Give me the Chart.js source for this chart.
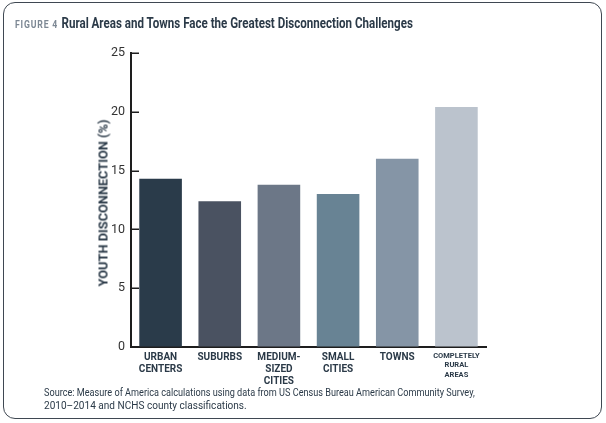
<!DOCTYPE html>
<html>
<head>
<meta charset="utf-8">
<script src="https://cdn.jsdelivr.net/npm/chart.js@4.4.1/dist/chart.umd.min.js"></script>
<style>
  html, body { margin: 0; padding: 0; background: #fff; }
  #wrap { position: relative; width: 606px; height: 423px; overflow: hidden; }
  #frame { position: absolute; left: 3px; top: 2px; width: 597px; height: 415px;
           border: 1.5px solid #3f4852; border-radius: 12px; }
  #chartBox { position: absolute; left: 0; top: 0; width: 606px; height: 423px; }
  .fit { position: absolute; white-space: nowrap; transform-origin: 0 0; display: inline-block; }
  #title { left: 15px; top: 13px; font-family: Roboto, "Liberation Sans", sans-serif; font-weight: 700; }
  #title .fig { color: #7d8894; font-size: 10.5px; letter-spacing: 1px; }
  #title .main { color: #2b3a48; font-size: 14px; }
  #ytitle { position: absolute; left: 103px; top: 203px; width: 0; height: 0; }
  #ytxt { position: absolute; left: 0; top: 0; white-space: nowrap; font-family: Roboto, sans-serif;
          font-weight: 700; font-size: 12.5px; color: #2b3a48; transform-origin: 0 0; }
  .src { left: 44px; font-family: Roboto, "Liberation Sans", sans-serif; font-size: 11px; color: #2b3a48; }
</style>
</head>
<body>
<div id="wrap">
  <div id="frame"></div>
  <div id="chartBox"><canvas id="c" width="606" height="423"></canvas></div>
  <div id="title" class="fit" data-w="398"><span class="fig">FIGURE 4</span> <span class="main">Rural Areas and Towns Face the Greatest Disconnection Challenges</span></div>
  <div id="ytitle"><span id="ytxt">YOUTH DISCONNECTION (%)</span></div>
  <div class="fit src" style="top:386px" data-w="431">Source: Measure of America calculations using data from US Census Bureau American Community Survey,</div>
  <div class="fit src" style="top:399px" data-w="203">2010–2014 and NCHS county classifications.</div>
</div>
<script>
// ---- data ----
const categories = [
  ["URBAN", "CENTERS"],
  ["SUBURBS"],
  ["MEDIUM-", "SIZED", "CITIES"],
  ["SMALL", "CITIES"],
  ["TOWNS"],
  ["COMPLETELY", "RURAL", "AREAS"]
];
const disconnection = [14.3, 12.4, 13.8, 13.0, 16.0, 20.4];
const yTicks = [0, 5, 10, 15, 20, 25];
const barColors = ["#2a3b4a", "#4a5261", "#6c7787", "#688394", "#8595a6", "#bbc3cd"];

// fit text widths
document.querySelectorAll('.fit').forEach(el => {
  const w = parseFloat(el.dataset.w);
  const actual = el.offsetWidth;
  el.style.transform = 'scaleX(' + (w / actual) + ')';
});
(function(){
  const s = document.getElementById('ytxt');
  const w = s.offsetWidth, h = s.offsetHeight;
  const k = 167 / w;
  s.style.transform = 'rotate(-90deg) translate(' + (-w * k / 2) + 'px,' + (-h / 2) + 'px) scaleX(' + k + ')';
})();

const insideTicks = {
  id: 'insideTicks',
  afterDraw(chart) {
    const y = chart.scales.y, ctx = chart.ctx, left = chart.chartArea.left;
    ctx.save();
    ctx.strokeStyle = '#1e1e1e';
    ctx.lineWidth = 1.5;
    y.ticks.forEach(t => {
      if (t.value === 0) return;
      const py = Math.round(y.getPixelForValue(t.value)) + 0.25;
      ctx.beginPath();
      ctx.moveTo(left - 0.5, py);
      ctx.lineTo(left + 8, py);
      ctx.stroke();
    });
    ctx.restore();
  }
};

new Chart(document.getElementById('c'), {
  type: 'bar',
  data: {
    labels: categories,
    datasets: [{ data: disconnection, backgroundColor: barColors, borderWidth: 0 }]
  },
  options: {
    responsive: false,
    animation: false,
    events: [],
    layout: { padding: { left: 0, top: 53, right: 120, bottom: 0 } },
    plugins: { legend: { display: false }, tooltip: { enabled: false } },
    scales: {
      x: {
        offset: true,
        grid: { display: true, drawOnChartArea: false, drawTicks: false },
        border: { display: true, color: '#1e1e1e', width: 2 },
        afterFit: s => { s.height = 76; },
        ticks: {
          autoSkip: false, maxRotation: 0, minRotation: 0, padding: 4,
          color: '#2b3a48',
          font: ctx => ctx.index === 5
            ? { family: 'Roboto', weight: 'bold', size: 7.5, lineHeight: 1.27 }
            : { family: 'Roboto', weight: 'bold', size: 10, lineHeight: 1.2 }
        }
      },
      y: {
        min: 0, max: 25,
        afterFit: s => { s.width = 131; },
        afterBuildTicks: s => { s.ticks = yTicks.map(v => ({ value: v })); },
        grid: { display: true, drawOnChartArea: false, drawTicks: false },
        border: { display: true, color: '#1e1e1e', width: 2 },
        ticks: { padding: 6, color: '#333', font: { family: 'Roboto', size: 12.5 } },
        title: { display: false }
      }
    }
  },
  plugins: [insideTicks]
});
</script>
</body>
</html>
